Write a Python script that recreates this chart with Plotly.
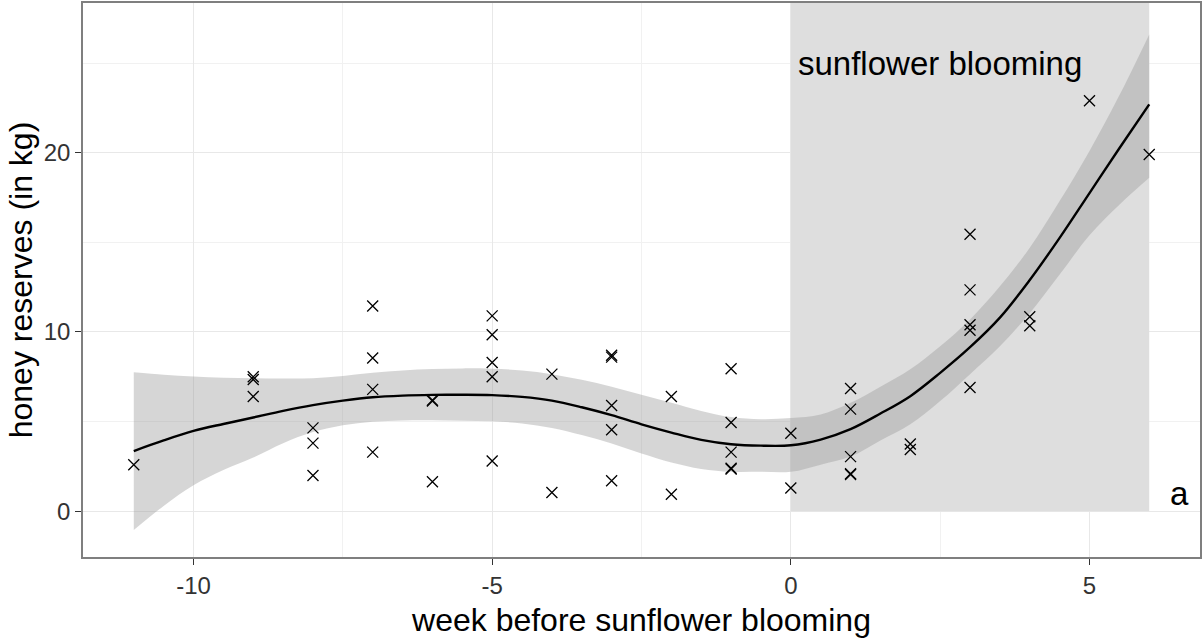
"""Honey reserves vs. week before sunflower blooming (loess fit + SE band)."""
import plotly.graph_objects as go

# observed colonies: week and honey reserve (kg)
WEEKS = ([-11] + [-9] * 3 + [-8] * 3 + [-7] * 4 + [-6] * 3 + [-5] * 5 + [-4] * 2 +
         [-3] * 5 + [-2] * 2 + [-1] * 5 + [0] * 2 + [1] * 5 + [2] * 2 + [3] * 5 +
         [4] * 2 + [5] + [6])
HONEY = [2.6,
         7.5, 7.35, 6.4,
         4.65, 3.8, 2.0,
         11.45, 8.55, 6.8, 3.3,
         6.2, 6.15, 1.65,
         10.9, 9.85, 8.3, 7.5, 2.8,
         7.65, 1.05,
         8.7, 8.6, 5.9, 4.55, 1.7,
         6.4, 0.95,
         7.95, 4.95, 3.3, 2.4, 2.35,
         4.35, 1.3,
         6.85, 5.7, 3.05, 2.1, 2.05,
         3.75, 3.45,
         15.45, 12.35, 10.4, 10.1, 6.9,
         10.85, 10.35,
         22.9,
         19.9]

# smoother
FIT_X = [-11, -10.5, -10, -9.5, -9, -8.5, -8, -7.5, -7, -6.5, -6, -5.5, -5, -4.5, -4,
         -3.5, -3, -2.5, -2, -1.5, -1, -0.5, 0, 0.5, 1, 1.5, 2, 2.5, 3, 3.5, 4, 4.5,
         5, 5.5, 6]
FIT_Y = [3.36, 3.95, 4.48, 4.87, 5.23, 5.6, 5.92, 6.17, 6.36, 6.45, 6.49, 6.5, 6.48,
         6.38, 6.17, 5.8, 5.36, 4.85, 4.39, 3.98, 3.74, 3.66, 3.68, 4.0, 4.58, 5.45,
         6.42, 7.72, 9.15, 10.8, 12.9, 15.25, 17.75, 20.25, 22.7]
FIT_HI = [7.75, 7.62, 7.52, 7.45, 7.42, 7.4, 7.42, 7.55, 7.72, 7.85, 7.93, 7.97, 7.95,
          7.85, 7.65, 7.33, 6.95, 6.5, 6.05, 5.6, 5.26, 5.14, 5.2, 5.4, 6.05, 6.95,
          7.92, 9.2, 10.7, 12.55, 14.7, 17.3, 20.1, 23.2, 26.6]
FIT_LO = [-1.05, 0.3, 1.45, 2.3, 3.0, 3.8, 4.42, 4.8, 5.0, 5.07, 5.08, 5.05, 5.02,
          4.9, 4.65, 4.25, 3.78, 3.22, 2.72, 2.36, 2.2, 2.2, 2.2, 2.6, 3.05, 3.95,
          4.85, 6.15, 7.65, 9.2, 11.05, 13.2, 15.4, 17.1, 18.6]

BLOOM_START, BLOOM_END = 0, 6
X_TICKS = [-10, -5, 0, 5]
X_TICKTEXT = ["-10", "-5", "0", "5"]
Y_TICKS = [0, 10, 20]
Y_TICKTEXT = ["0", "10", "20"]
X_RANGE = [-11.85, 6.85]
Y_RANGE = [-2.55, 28.35]

FONT = "Liberation Sans, Arial, sans-serif"

fig = go.Figure()
fig.add_trace(go.Scatter(x=FIT_X, y=FIT_LO, mode="lines", line=dict(width=0, shape="spline"),
                         hoverinfo="skip", showlegend=False))
fig.add_trace(go.Scatter(x=FIT_X, y=FIT_HI, mode="lines", line=dict(width=0, shape="spline"),
                         fill="tonexty", fillcolor="rgba(153,153,153,0.4)",
                         hoverinfo="skip", showlegend=False))
fig.add_trace(go.Scatter(x=FIT_X, y=FIT_Y, mode="lines", line=dict(color="black", width=2.4, shape="spline"),
                         showlegend=False))
fig.add_trace(go.Scatter(x=WEEKS, y=HONEY, mode="markers",
                         marker=dict(symbol="x-thin-open", size=11, color="black",
                                     line=dict(color="black", width=1.3)),
                         showlegend=False))

# blooming period, drawn over the grid but under the data
fig.add_shape(type="rect", x0=BLOOM_START, x1=BLOOM_END, y0=0, y1=Y_RANGE[1],
              xref="x", yref="y", fillcolor="#dedede", line=dict(width=0), layer="between")

fig.add_annotation(x=2.5, y=25, text="sunflower blooming", showarrow=False,
                   font=dict(family=FONT, size=33, color="black"), xanchor="center", yanchor="middle")
fig.add_annotation(x=6.5, y=1, text="a", showarrow=False,
                   font=dict(family=FONT, size=33, color="black"), xanchor="center", yanchor="middle")

axis_common = dict(showline=True, mirror=True, linecolor="#7f7f7f", linewidth=1.5,
                   ticks="outside", ticklen=6, tickwidth=1.2, tickcolor="#333333",
                   gridcolor="#e8e8e8", gridwidth=1.2, zeroline=False, automargin=False,
                   tickfont=dict(family=FONT, size=24, color="#333333"),
                   minor=dict(showgrid=True, gridcolor="#f1f1f1", gridwidth=0.8))
fig.update_xaxes(range=X_RANGE, tickvals=X_TICKS, ticktext=X_TICKTEXT,
                 title=dict(text="week before sunflower blooming", standoff=11,
                            font=dict(family=FONT, size=32, color="black")),
                 **axis_common)
fig.update_xaxes(minor=dict(tickvals=[-7.5, -2.5, 2.5]))
fig.update_yaxes(range=Y_RANGE, tickvals=Y_TICKS, ticktext=Y_TICKTEXT,
                 title=dict(text="honey reserves (in kg)", standoff=2,
                            font=dict(family=FONT, size=32, color="black")),
                 **axis_common)
fig.update_yaxes(minor=dict(tickvals=[5, 15, 25]))
fig.update_layout(width=1202, height=640, margin=dict(l=83, r=2, t=3, b=83),
                  paper_bgcolor="white", plot_bgcolor="white",
                  font=dict(family=FONT))
fig.write_html("out.html", config={"displayModeBar": False},
               post_script="document.body.style.margin='0';")
